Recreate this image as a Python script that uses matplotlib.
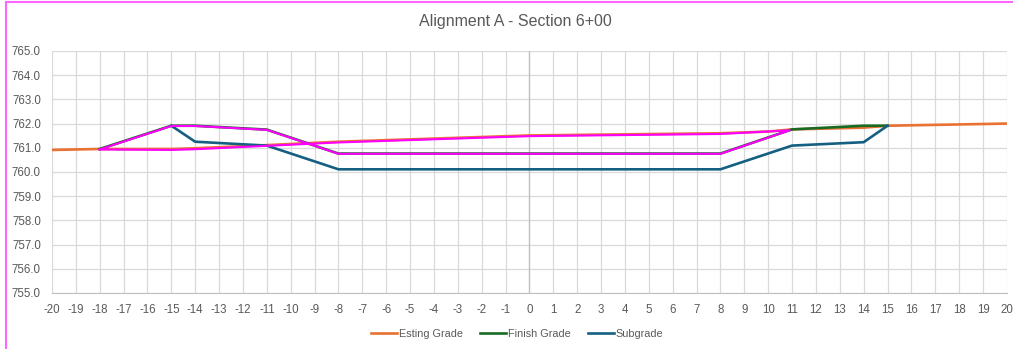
import matplotlib
matplotlib.use("Agg")
import matplotlib.pyplot as plt
from matplotlib.lines import Line2D

plt.rcParams.update({"font.family": ["Liberation Sans", "DejaVu Sans"]})

# offsets (ft) and elevations read from the section
exist_x = [-20, -18, -15, -14, -11, -8, 0, 8, 10, 11, 14, 15, 20]
exist_y = [760.91, 760.95, 760.95, 760.98, 761.11, 761.25, 761.51, 761.60,
           761.67, 761.76, 761.83, 761.91, 762.00]

finish_x = [-18, -15, -14, -11, -8, 8, 11, 14, 15]
finish_y = [760.95, 761.91, 761.91, 761.75, 760.76, 760.76, 761.76, 761.91, 761.91]

sub_x = [-15, -14, -11, -8, 8, 11, 14, 15]
sub_y = [761.91, 761.25, 761.09, 760.11, 760.11, 761.09, 761.23, 761.91]

# hand-drawn outline of the cut/fill area
outline_x = [-18, -15, -14, -11, -8, 8, 10.9, 8, 0, -8, -11, -14, -15, -18]
outline_y = [760.93, 761.90, 761.90, 761.74, 760.75, 760.75, 761.72,
             761.57, 761.48, 761.22, 761.08, 760.94, 760.91, 760.93]

x_ticks = list(range(-20, 21))
y_ticks = [755.0 + i for i in range(11)]

C = {"exist": "#E97132", "finish": "#196B24", "sub": "#156082",
     "outline": "#FF00FF", "grid": "#D9D9D9", "text": "#595959"}

fig = plt.figure(figsize=(10.13, 3.49), dpi=100)
ax = fig.add_axes([0.0513, 0.1605, 0.9427, 0.6935])

ax.plot(exist_x, exist_y, color=C["exist"], lw=1.9, label="Esting Grade", zorder=3)
ax.plot(finish_x, finish_y, color=C["finish"], lw=1.9, label="Finish Grade", zorder=4)
ax.plot(sub_x, sub_y, color=C["sub"], lw=1.9, label="Subgrade", zorder=4)
ax.plot(outline_x, outline_y, color=C["outline"], lw=1.5, zorder=5)

ax.set_xlim(-20, 20)
ax.set_ylim(755, 765)
ax.set_xticks(x_ticks)
ax.set_xticklabels([str(v) for v in x_ticks])
ax.set_yticks(y_ticks)
ax.set_yticklabels([f"{v:.1f}" for v in y_ticks])
ax.grid(True, color=C["grid"], lw=0.9)
ax.set_axisbelow(True)
ax.axvline(0, color="#BFBFBF", lw=0.9, zorder=1)
for s in ("top", "right", "left"):
    ax.spines[s].set_visible(False)
ax.spines["bottom"].set_color("#BFBFBF")
ax.tick_params(length=0, labelsize=8.3, colors=C["text"])
ax.tick_params(axis="x", pad=8)
ax.tick_params(axis="y", pad=8)

fig.text(0.509, 0.937, "Alignment A - Section 6+00", fontsize=11.5,
         color=C["text"], ha="center", va="center")
ax.legend(loc="center", bbox_to_anchor=(0.487, -0.17), ncol=3, frameon=False,
          fontsize=7.8, labelcolor=C["text"], handlelength=2.4, handletextpad=0.15,
          columnspacing=1.6)

# magenta frame (top and left edges)
fig.add_artist(Line2D([0.006, 1.0], [0.994, 0.994], color="#FF66FF", lw=1.5))
fig.add_artist(Line2D([0.006, 0.006], [0.0, 0.994], color="#FF66FF", lw=1.5))

fig.savefig("out.png", dpi=100)
